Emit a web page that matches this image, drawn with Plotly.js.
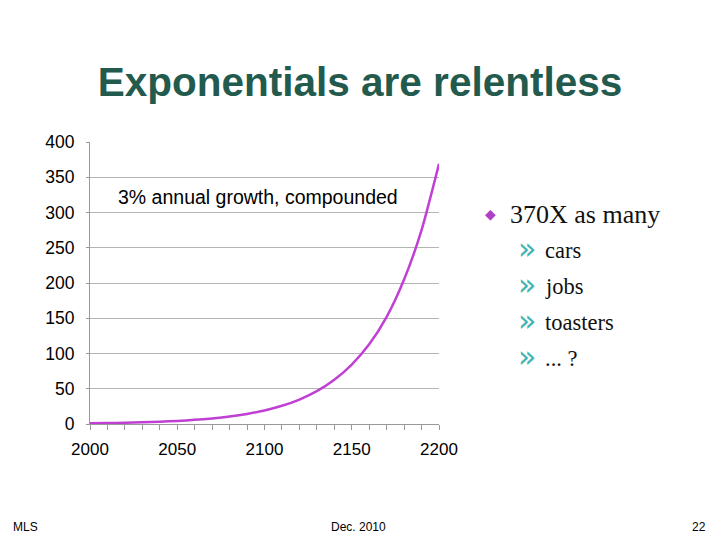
<!DOCTYPE html>
<html>
<head>
<meta charset="utf-8">
<script src="https://cdn.plot.ly/plotly-3.0.1.min.js"></script>
<style>
  html, body { margin: 0; padding: 0; background: #fff; }
  #chart { width: 720px; height: 540px; }
</style>
</head>
<body>
<div id="chart"></div>
<script>
// Values (3% annual growth)
const years = [2000, 2010, 2020, 2030, 2040, 2050, 2060, 2070, 2080, 2090, 2100,
               2110, 2120, 2130, 2140, 2150, 2160, 2170, 2180, 2190, 2200];
const growth = [1, 1.34, 1.81, 2.43, 3.26, 4.38, 5.89, 7.92, 10.6, 14.3, 19.2,
                25.8, 34.7, 46.6, 62.7, 84.3, 113, 152, 205, 275, 369];

const slideTitle = 'Exponentials are relentless';
const chartNote = '3% annual growth, compounded';
const mainBullet = '370X as many';
const subBullets = ['cars', 'jobs', 'toasters', '... ?'];
const footer = ['MLS', 'Dec. 2010', '22'];

const sans = 'Liberation Sans, Arial, sans-serif';
const serif = 'Liberation Serif, Times New Roman, serif';

const trace = {
    x: years,
    y: growth,
    mode: 'lines',
    type: 'scatter',
    line: { color: '#c040d4', width: 2.5, shape: 'spline', smoothing: 0.6 },
    hoverinfo: 'skip'
};

// Plot area in pixels; paper coords are relative to it
const W = 720, H = 540;
const M = { l: 90, r: 281, t: 142, b: 116 };
const PW = W - M.l - M.r, PH = H - M.t - M.b;
const px = (x) => (x - M.l) / PW;
const py = (y) => (H - M.b - y) / PH;

function note(text, x, y, anchor, font) {
    return {
        text: text, xref: 'paper', yref: 'paper',
        x: px(x), y: py(y), xanchor: anchor, yanchor: 'middle',
        showarrow: false, font: font
    };
}

const annotations = [
    note(chartNote, 116, 197, 'left', { family: sans, size: 19.5, color: '#000' }),
    note('◆', 490, 214, 'center', { family: 'DejaVu Sans', size: 14, color: '#b040c8' }),
    note(mainBullet, 508, 214, 'left', { family: serif, size: 26, color: '#111' })
];

subBullets.forEach((s, i) => {
    const yy = 250 + i * 36;
    annotations.push(note('»', 527, yy - 2, 'center', { family: 'DejaVu Sans', size: 30, color: '#45b3b3' }));
    annotations.push(note(s, 543, yy, 'left', { family: serif, size: 22.5, color: '#111' }));
});

annotations.push(
    note(footer[0], 11, 527, 'left', { family: sans, size: 12, color: '#000' }),
    note(footer[1], 358, 527, 'center', { family: sans, size: 12, color: '#000' }),
    note(footer[2], 708, 527, 'right', { family: sans, size: 12, color: '#000' })
);

const layout = {
    width: W,
    height: H,
    paper_bgcolor: '#fff',
    plot_bgcolor: '#fff',
    margin: M,
    showlegend: false,
    title: {
        text: '<b>' + slideTitle + '</b>',
        x: 0.5, xanchor: 'center',
        y: 1 - 82 / H, yanchor: 'middle', yref: 'container',
        font: { family: sans, size: 40.5, color: '#235a4e' }
    },
    xaxis: {
        range: [2000, 2200],
        tickvals: [2000, 2050, 2100, 2150, 2200],
        ticks: 'outside', ticklen: 5, tickcolor: '#999',
        minor: { dtick: 10, tick0: 2000, ticks: 'outside', ticklen: 5, tickcolor: '#999', showgrid: false },
        showgrid: false, zeroline: false,
        showline: true, linecolor: '#999', linewidth: 1,
        ticklabelstandoff: 5,
        tickfont: { family: sans, size: 17, color: '#000' }
    },
    yaxis: {
        range: [0, 400],
        dtick: 50,
        ticks: 'outside', ticklen: 3, tickcolor: '#999',
        showgrid: true, gridcolor: '#b4b4b4', gridwidth: 1,
        zeroline: false,
        showline: true, linecolor: '#999', linewidth: 1,
        ticklabelstandoff: 8,
        tickfont: { family: sans, size: 17.5, color: '#000' }
    },
    annotations: annotations
};

Plotly.newPlot('chart', [trace], layout, { displayModeBar: false, staticPlot: true });
</script>
</body>
</html>
